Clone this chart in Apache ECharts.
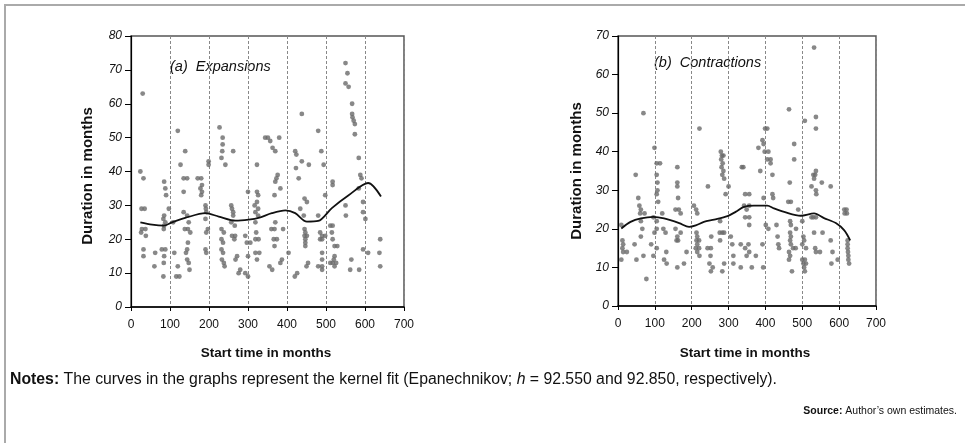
<!DOCTYPE html>
<html><head><meta charset="utf-8">
<script src="https://cdn.jsdelivr.net/npm/echarts@6/dist/echarts.min.js"></script>
<style>html,body{margin:0;padding:0;background:#fff}#c{width:965px;height:443px}</style>
</head><body><div id="c"></div>
<script>
// ---- Data ----
const xTicks = [0,100,200,300,400,500,600,700];
const expStart = [30,24,32,27,35,28,37,26,38,32,32,62,60,85,88,90,85,83,88,85,84,79,88,85,84,83,97,108,111,120,127,135,144,139,135,135,144,148,138,146,152,146,144,141,144,148,150,120,116,124,171,180,182,178,182,180,191,192,193,191,197,193,191,193,199,199,227,235,235,234,232,242,262,257,259,262,262,232,238,232,236,232,236,233,238,240,257,266,259,267,265,272,268,276,280,293,300,300,293,297,306,300,323,323,326,323,317,326,319,326,319,321,319,327,319,329,323,344,351,357,363,370,380,376,373,370,383,368,370,360,368,390,366,374,368,387,383,355,362,404,420,426,438,421,424,438,456,423,430,434,445,451,443,445,447,445,451,447,447,447,454,450,480,488,494,480,485,490,498,485,490,490,490,480,490,490,498,517,517,511,517,515,517,522,529,511,517,522,520,526,522,550,555,550,558,567,567,568,571,574,574,584,588,591,584,550,551,565,562,585,595,595,601,595,608,639,637,639];
const expDur = [63,40,38,29,29,23,23,22,21,17,15,16,12,37,35,33,27,26,25,24,23,17,17,15,13,9,29,25,16,52,42,38,38,46,34,28,27,25,23,23,22,19,17,16,14,13,11,12,9,9,38,38,36,35,34,33,30,29,28,26,23,22,17,16,43,42,53,50,48,46,44,42,46,30,29,28,27,23,22,20,19,17,16,14,13,12,25,24,21,21,20,15,14,10,11,10,9,34,21,19,19,15,42,34,33,31,30,29,28,27,25,22,20,20,16,16,14,50,50,49,47,46,50,39,38,37,35,33,25,23,23,23,20,20,18,14,13,12,11,16,9,10,57,46,45,43,42,41,38,29,32,31,27,23,22,21,21,20,19,18,13,12,52,46,42,27,22,21,21,20,20,16,14,12,12,11,33,37,36,24,24,22,20,18,18,13,13,15,14,13,12,72,69,66,65,60,57,56,55,54,51,44,39,38,35,30,27,14,11,11,31,28,26,17,16,20,16,12];
const expFitX = [24,54,84,105,139,191,225,268,302,327,361,396,421,451,480,515,558,608,641];
const expFitY = [25,24.3,24,25,26.3,27.7,26.7,25.5,25.8,26.3,27.7,28.5,27.7,25.2,25.4,29.2,33,36.6,32.6];

const conStart = [9,12,14,12,14,24,9,48,69,55,58,62,60,72,62,66,62,45,50,69,77,90,96,99,105,114,105,107,107,105,109,96,105,99,105,105,120,123,129,125,132,131,161,161,161,163,156,165,170,156,170,161,159,163,161,179,186,206,212,215,221,213,215,213,220,215,211,220,215,221,243,252,244,253,251,248,252,257,279,282,286,280,284,281,286,283,288,292,277,276,283,288,277,283,288,300,306,310,313,313,333,333,336,340,345,356,342,356,349,345,356,356,345,354,349,356,363,374,381,392,395,399,405,398,408,405,414,414,386,419,419,421,395,401,408,392,394,430,433,435,437,464,478,478,466,462,469,489,467,469,467,469,467,469,475,482,464,467,464,472,483,507,500,505,503,500,510,500,507,503,510,505,507,532,537,537,525,530,535,532,537,537,538,530,537,525,532,535,537,548,553,555,577,577,582,579,596,614,620,615,621,623,623,624,625,625,627,623];
const conDur = [21,17,16,15,14,14,12,34,50,28,26,25,24,24,22,20,18,16,12,13,7,16,13,41,37,37,34,32,30,29,27,23,22,19,20,15,24,20,19,12,11,14,36,32,31,28,25,25,24,20,19,18,17,17,10,11,14,26,25,24,46,19,18,17,17,16,15,15,14,13,15,15,31,18,13,11,9,10,40,39,39,38,37,36,35,34,33,29,22,19,19,19,17,9,11,31,18,16,13,11,16,10,36,36,29,29,26,26,25,23,23,21,15,16,13,14,10,13,41,43,42,46,46,40,40,38,38,37,35,34,29,28,28,21,20,16,10,21,18,16,15,51,42,38,32,27,27,25,22,21,19,18,17,16,15,15,14,13,12,9,20,48,22,17,18,16,15,12,12,11,11,10,9,67,49,46,31,34,34,33,35,30,29,23,23,23,19,15,14,14,32,19,31,17,14,11,12,25,25,24,24,16,15,14,13,12,11,17];
const conFitX = [9,34,62,96,125,166,193,211,233,261,297,319,342,369,405,423,451,496,532,559,591,614,630];
const conFitY = [20.1,21.8,22.7,23.1,22.7,21.5,20.5,20.9,21.8,22.4,23.3,24.4,25.7,26,26,25.3,24.4,23.4,24,22.8,21.5,19.6,17];

const zip = (a, b) => a.map((v, i) => [v, b[i]]);

const FONT = '"Liberation Sans", Arial, sans-serif';
const DOT = '#6a6a6a';

function xAxis(gi) {
  return {
    gridIndex: gi, type: 'value', min: 0, max: 700, interval: 100,
    axisLine: { show: true, lineStyle: { color: '#000', width: 1.5 } },
    axisTick: { show: true, length: 4, inside: false, lineStyle: { color: '#000' } },
    axisLabel: { color: '#111', fontFamily: FONT, fontSize: 12, margin: 12 },
    splitLine: { show: true, lineStyle: { color: '#888', type: [3, 2], width: 1 } }
  };
}
function yAxis(gi, max) {
  return {
    gridIndex: gi, type: 'value', min: 0, max: max, interval: 10,
    axisLine: { show: true, lineStyle: { color: '#000', width: 1.2 } },
    axisTick: { show: true, length: 6, lineStyle: { color: '#000' } },
    axisLabel: { color: '#111', fontFamily: FONT, fontSize: 12, fontStyle: 'italic', margin: 9 },
    splitLine: { show: false }
  };
}

const chart = echarts.init(document.getElementById('c'), null, { renderer: 'canvas' });
chart.setOption({
  animation: false,
  backgroundColor: '#fff',
  grid: [
    { left: 131, top: 36, width: 273, height: 271, show: true, borderColor: '#555', borderWidth: 1.5, backgroundColor: 'transparent' },
    { left: 618, top: 36, width: 258, height: 270, show: true, borderColor: '#555', borderWidth: 1.5, backgroundColor: 'transparent' }
  ],
  xAxis: [xAxis(0), xAxis(1)],
  yAxis: [yAxis(0, 80), yAxis(1, 70)],
  series: [
    { type: 'scatter', xAxisIndex: 0, yAxisIndex: 0, data: zip(expStart, expDur), symbolSize: 4.8, itemStyle: { color: DOT } },
    { type: 'line', xAxisIndex: 0, yAxisIndex: 0, data: zip(expFitX, expFitY), smooth: 0.3, symbol: 'none', lineStyle: { color: '#111', width: 1.8 } },
    { type: 'scatter', xAxisIndex: 1, yAxisIndex: 1, data: zip(conStart, conDur), symbolSize: 4.8, itemStyle: { color: DOT } },
    { type: 'line', xAxisIndex: 1, yAxisIndex: 1, data: zip(conFitX, conFitY), smooth: 0.3, symbol: 'none', lineStyle: { color: '#111', width: 1.8 } }
  ],
  graphic: [
    { type: 'rect', shape: { x: 4, y: 4, width: 961, height: 2 }, style: { fill: '#aaa' }, silent: true },
    { type: 'rect', shape: { x: 4, y: 4, width: 2, height: 439 }, style: { fill: '#aaa' }, silent: true },
    { type: 'text', x: 170, y: 67, style: { text: '(a)  Expansions', font: 'italic 14.5px ' + FONT, fill: '#111', textVerticalAlign: 'middle' } },
    { type: 'text', x: 654, y: 63, style: { text: '(b)  Contractions', font: 'italic 14.5px ' + FONT, fill: '#111', textVerticalAlign: 'middle' } },
    { type: 'text', x: 88, y: 176, rotation: Math.PI / 2, style: { text: 'Duration in months', font: 'bold 15px ' + FONT, fill: '#111', textAlign: 'center', textVerticalAlign: 'middle' } },
    { type: 'text', x: 577, y: 171, rotation: Math.PI / 2, style: { text: 'Duration in months', font: 'bold 15px ' + FONT, fill: '#111', textAlign: 'center', textVerticalAlign: 'middle' } },
    { type: 'text', x: 266, y: 353, style: { text: 'Start time in months', font: 'bold 13.5px ' + FONT, fill: '#111', textAlign: 'center', textVerticalAlign: 'middle' } },
    { type: 'text', x: 745, y: 353, style: { text: 'Start time in months', font: 'bold 13.5px ' + FONT, fill: '#111', textAlign: 'center', textVerticalAlign: 'middle' } },
    { type: 'text', x: 10, y: 380, style: {
        text: '{b|Notes:} The curves in the graphs represent the kernel fit (Epanechnikov; {i|h} = 92.550 and 92.850, respectively).',
        font: '15.8px ' + FONT, fill: '#111', textVerticalAlign: 'middle',
        rich: { b: { fontWeight: 'bold', fontSize: 15.8, fontFamily: FONT, fill: '#111' }, i: { fontStyle: 'italic', fontSize: 15.8, fontFamily: FONT, fill: '#111' } } } },
    { type: 'text', x: 957, y: 411, style: {
        text: '{b|Source:} Author\u2019s own estimates.', font: '10.5px ' + FONT, fill: '#111', textAlign: 'right', textVerticalAlign: 'middle',
        rich: { b: { fontWeight: 'bold', fontSize: 10.5, fontFamily: FONT, fill: '#111' } } } }
  ]
});
</script></body></html>
